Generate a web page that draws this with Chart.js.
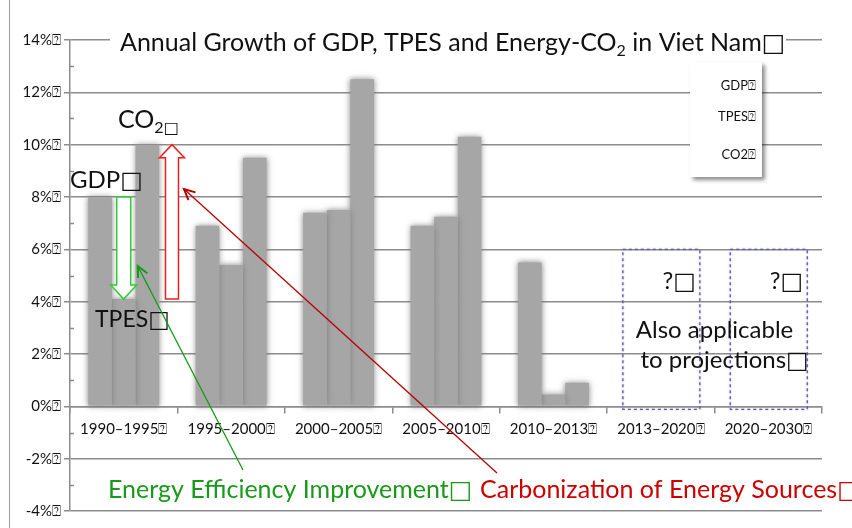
<!DOCTYPE html>
<html>
<head>
<meta charset="utf-8">
<script src="https://cdn.jsdelivr.net/npm/chart.js@4"></script>
<style>
  html, body { margin: 0; padding: 0; background: #fff; }
  #wrap { width: 852px; height: 528px; }
</style>
</head>
<body>
<div id="wrap"><canvas id="growthChart" width="852" height="528"></canvas></div>
<script>
const BOX = '\u2370';
const periods = ['1990–1995' + BOX, '1995–2000' + BOX, '2000–2005' + BOX, '2005–2010' + BOX,
                 '2010–2013' + BOX, '2013–2020' + BOX, '2020–2030' + BOX];
const gdpGrowth = [8.0, 6.9, 7.4, 6.9, 5.5, null, null];
const tpesGrowth = [4.1, 5.4, 7.5, 7.25, 0.45, null, null];
const co2Growth = [10.0, 9.5, 12.5, 10.3, 0.9, null, null];
const seriesNames = ['GDP' + BOX, 'TPES' + BOX, 'CO2' + BOX];
const projectionIdx = [5, 6];

const FONT = 'Lato, "Open Sans", sans-serif';
const SQ_FONT = '"DejaVu Sans", sans-serif';
const GRID = '#8c8c8c';

// text followed by a large white square glyph
function txt(ctx, s, x, y, size, color, align, square) {
    ctx.textBaseline = 'alphabetic';
    ctx.textAlign = 'left';
    ctx.fillStyle = color;
    ctx.font = size + 'px ' + FONT;
    const w1 = ctx.measureText(s).width;
    let w2 = 0;
    if (square) {
        ctx.font = size + 'px ' + SQ_FONT;
        w2 = ctx.measureText('\u25A1').width;
    }
    let x0 = x;
    if (align === 'right') x0 = x - w1 - w2;
    if (align === 'center') x0 = x - (w1 + w2) / 2;
    ctx.font = size + 'px ' + FONT;
    ctx.fillText(s, x0, y);
    if (square) {
        ctx.font = size + 'px ' + SQ_FONT;
        ctx.fillText('\u25A1', x0 + w1, y);
    }
    return x0 + w1 + w2;
}

function hollowArrow(ctx, x, yFrom, yTo, shaftW, headW, headL, color) {
    const dir = yTo > yFrom ? 1 : -1;
    const yNeck = yTo - dir * headL;
    ctx.beginPath();
    ctx.moveTo(x - shaftW / 2, yFrom);
    ctx.lineTo(x + shaftW / 2, yFrom);
    ctx.lineTo(x + shaftW / 2, yNeck);
    ctx.lineTo(x + headW / 2, yNeck);
    ctx.lineTo(x, yTo);
    ctx.lineTo(x - headW / 2, yNeck);
    ctx.lineTo(x - shaftW / 2, yNeck);
    ctx.closePath();
    ctx.fillStyle = '#fff';
    ctx.fill();
    ctx.strokeStyle = color;
    ctx.lineWidth = 1.5;
    ctx.stroke();
}

function pointerLine(ctx, x1, y1, x2, y2, color) {
    ctx.strokeStyle = color;
    ctx.lineWidth = 1.3;
    ctx.beginPath();
    ctx.moveTo(x1, y1);
    ctx.lineTo(x2, y2);
    ctx.stroke();
    const a = Math.atan2(y2 - y1, x2 - x1);
    const L = 12, w = 0.45;
    ctx.lineWidth = 2;
    ctx.beginPath();
    ctx.moveTo(x2 - L * Math.cos(a - w), y2 - L * Math.sin(a - w));
    ctx.lineTo(x2, y2);
    ctx.lineTo(x2 - L * Math.cos(a + w), y2 - L * Math.sin(a + w));
    ctx.stroke();
}

const barShadow = {
    id: 'barShadow',
    beforeDatasetsDraw(chart) {
        const ctx = chart.ctx;
        ctx.save();
        ctx.shadowColor = 'rgba(120,120,120,0.9)';
        ctx.shadowBlur = 6;
    },
    afterDatasetsDraw(chart) {
        chart.ctx.restore();
    }
};

const decorations = {
    id: 'decorations',
    beforeDraw(chart) {
        const ctx = chart.ctx;
        ctx.save();
        ctx.strokeStyle = '#999';
        ctx.lineWidth = 1;
        ctx.beginPath();
        ctx.moveTo(9.5, 0);
        ctx.lineTo(9.5, 528);
        ctx.stroke();
        ctx.restore();
    },
    afterDraw(chart) {
        const ctx = chart.ctx;
        const x = chart.scales.x, y = chart.scales.y;
        const area = chart.chartArea;
        ctx.save();

        // minor ticks on the y axis
        ctx.strokeStyle = GRID;
        ctx.lineWidth = 1.5;
        for (let v = y.min + 1; v < y.max; v += 2) {
            const py = Math.round(y.getPixelForValue(v)) + 0.5;
            ctx.beginPath();
            ctx.moveTo(area.left, py);
            ctx.lineTo(area.left + 4, py);
            ctx.stroke();
        }

        // title with white backing
        ctx.fillStyle = '#fff';
        ctx.fillRect(110, 26, 676, 30);
        let tx = txt(ctx, 'Annual Growth of GDP, TPES and Energy-CO', 120, 51, 25, '#111');
        tx = txt(ctx, '2', tx, 56, 16, '#111');
        txt(ctx, ' in Viet Nam', tx, 51, 25, '#111', 'left', true);

        // legend box
        ctx.save();
        ctx.shadowColor = 'rgba(0,0,0,0.45)';
        ctx.shadowBlur = 4;
        ctx.shadowOffsetX = 3;
        ctx.shadowOffsetY = 3;
        ctx.fillStyle = '#fff';
        ctx.fillRect(690, 62, 72, 115);
        ctx.restore();
        const ly = [90, 121, 159];
        chart.data.datasets.forEach((ds, i) => txt(ctx, ds.label, 756, ly[i], 13, '#111', 'right'));

        // projection boxes
        projectionIdx.forEach(i => {
            const cx = x.getPixelForValue(i);
            const top = y.getPixelForValue(6);
            const bot = y.getPixelForValue(0) + 3;
            ctx.save();
            ctx.setLineDash([3, 3]);
            ctx.strokeStyle = '#5a5ab0';
            ctx.lineWidth = 1.3;
            ctx.shadowColor = 'rgba(90,90,176,0.5)';
            ctx.shadowBlur = 2;
            ctx.strokeRect(cx - 38, top, 77, bot - top);
            ctx.restore();
            txt(ctx, '?', cx + 35, top + 40, 24, '#111', 'right', true);
        });
        const pc = (x.getPixelForValue(5) + x.getPixelForValue(6)) / 2;
        txt(ctx, 'Also applicable', pc, 338, 24, '#111', 'center');
        txt(ctx, 'to projections', pc + 10, 368, 24, '#111', 'center', true);

        // hollow arrows: GDP -> TPES, TPES -> CO2 for the first period
        const mT = chart.getDatasetMeta(1).data[0];
        const mC = chart.getDatasetMeta(2).data[0];
        const yG = y.getPixelForValue(gdpGrowth[0]);
        const yT = y.getPixelForValue(tpesGrowth[0]);
        const yC = y.getPixelForValue(co2Growth[0]);
        hollowArrow(ctx, mT.x, yG, yT, 14, 26, 14, '#2ecc2e');
        const rx = mC.x + mC.width + 1;
        hollowArrow(ctx, rx, yT, yC, 13, 25, 13, '#ee1c1c');

        txt(ctx, 'GDP', 70, 188, 24, '#111', 'left', true);
        tx = txt(ctx, 'CO', 118, 128, 25, '#111');
        txt(ctx, '2', tx, 133, 16, '#111', 'left', true);
        txt(ctx, 'TPES', 95, 327, 23, '#111', 'left', true);

        // pointer lines and captions
        pointerLine(ctx, 243, 470, mT.x + 14, yT - 33, '#139a13');
        pointerLine(ctx, 497, 473, rx + 12, yG - 8, '#b80000');
        txt(ctx, 'Energy Efficiency Improvement', 108, 498, 25, '#1a9a1a', 'left', true);
        txt(ctx, 'Carbonization of Energy Sources', 480, 498, 25, '#cc0000', 'left', true);

        ctx.restore();
    }
};

new Chart(document.getElementById('growthChart').getContext('2d'), {
    type: 'bar',
    data: {
        labels: periods,
        datasets: [
            { label: seriesNames[0], data: gdpGrowth, backgroundColor: '#a6a6a6' },
            { label: seriesNames[1], data: tpesGrowth, backgroundColor: '#a6a6a6' },
            { label: seriesNames[2], data: co2Growth, backgroundColor: '#a6a6a6' }
        ]
    },
    options: {
        responsive: false,
        animation: false,
        layout: { padding: { left: 0, right: 30, top: 40, bottom: 17 } },
        datasets: { bar: { categoryPercentage: 0.66, barPercentage: 1.0 } },
        plugins: {
            legend: { display: false },
            title: { display: false },
            tooltip: { enabled: false }
        },
        scales: {
            x: {
                position: { y: 0 },
                offset: true,
                grid: { display: true, drawOnChartArea: false, offset: true, color: GRID, lineWidth: 1.5, tickLength: 6 },
                border: { display: true, color: GRID, width: 1.5 },
                ticks: { color: '#111', font: { family: FONT, size: 15 }, padding: 8, maxRotation: 0, autoSkip: false }
            },
            y: {
                min: -4,
                max: 14,
                afterFit(scale) { scale.width = 70; },
                grid: { color: GRID, lineWidth: 1.5, tickLength: 6 },
                border: { display: true, color: GRID, width: 1.5 },
                ticks: {
                    stepSize: 2,
                    color: '#111',
                    padding: 3,
                    font: { family: FONT, size: 15 },
                    callback: v => v + '%' + BOX
                }
            }
        }
    },
    plugins: [barShadow, decorations]
});
</script>
</body>
</html>
